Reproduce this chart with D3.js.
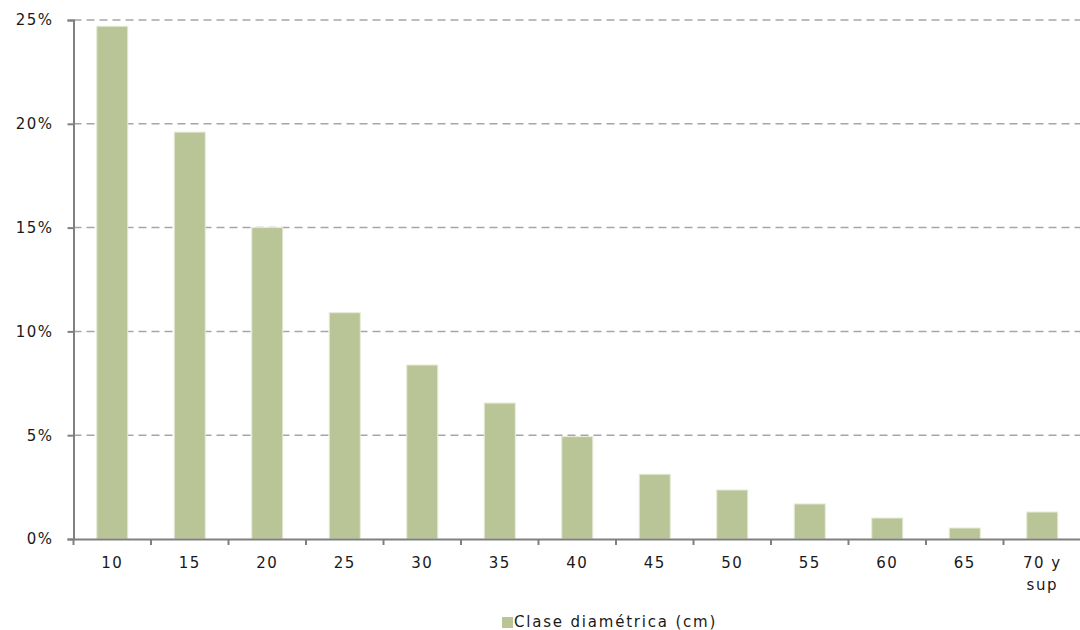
<!DOCTYPE html>
<html><head><meta charset="utf-8">
<script src="https://cdn.jsdelivr.net/npm/d3@7"></script>
<style>body{margin:0;background:#fff}svg text{font-family:"DejaVu Sans",Verdana,sans-serif;fill:#1a1a1a;}</style>
</head><body>
<svg id="c" width="1080" height="630"></svg>
<script>
const categories = ["10","15","20","25","30","35","40","45","50","55","60","65","70 y sup"];
const values = [24.7,19.6,15.0,10.9,8.38,6.55,4.93,3.12,2.36,1.69,1.01,0.53,1.3];
const yTicks = [0,5,10,15,20,25];
const seriesName = "Clase diamétrica (cm)";

(function(){
const svg = d3.select("#c");
const mLeft = 73.5, mRight = 1081, mTop = 20, mBottom = 539;
const xb = d3.scaleBand().domain(categories).range([mLeft, mRight]);
const y = d3.scaleLinear().domain([0,25]).range([mBottom, mTop]);

// grid
svg.append("g").selectAll("line").data(yTicks.filter(d=>d>0)).join("line")
  .attr("x1", mLeft).attr("x2", mRight).attr("y1", d=>y(d)).attr("y2", d=>y(d))
  .attr("stroke","#a6a6a6").attr("stroke-width",1.5).attr("stroke-dasharray","8,5");

// bars
svg.append("g").selectAll("rect").data(values).join("rect")
  .attr("x",(d,i)=>xb(categories[i]) + xb.bandwidth()*0.3)
  .attr("width", xb.bandwidth()*0.4)
  .attr("y", d=>y(d)).attr("height", d=>mBottom - y(d))
  .attr("fill","#b9c597").attr("stroke","#e6ebd6").attr("stroke-width",1);

// y axis
const yAxis = svg.append("g").attr("transform",`translate(${mLeft},0)`)
  .call(d3.axisLeft(y).tickValues(yTicks).tickSize(6).tickFormat(d=>d+"%"));
yAxis.select(".domain").attr("stroke","#808080").attr("stroke-width",2);
yAxis.selectAll(".tick line").attr("stroke","#808080").attr("stroke-width",2);
yAxis.selectAll(".tick text").attr("x",-20).attr("font-size",15).attr("letter-spacing","1.5px").attr("fill","#1a1a1a");

// x axis
const xAxis = svg.append("g").attr("transform",`translate(0,${mBottom})`)
  .call(d3.axisBottom(xb).tickSize(0).tickFormat(""));
xAxis.select(".domain").attr("stroke","#808080").attr("stroke-width",2);
xAxis.selectAll(".tick").remove();
const bounds = categories.map(c=>xb(c)).concat([mRight]);
svg.append("g").selectAll("line").data(bounds).join("line")
  .attr("x1",d=>d).attr("x2",d=>d).attr("y1",mBottom).attr("y2",mBottom+6)
  .attr("stroke","#808080").attr("stroke-width",2);

const lab = svg.append("g").selectAll("text").data(categories).join("text")
  .attr("x", d=>xb(d)+xb.bandwidth()/2).attr("y", 568)
  .attr("text-anchor","middle").attr("font-size",15).attr("letter-spacing","1.5px");
lab.each(function(d){
  const parts = d === "70 y sup" ? ["70 y","sup"] : [d];
  const t = d3.select(this);
  parts.forEach((p,i)=>t.append("tspan").attr("x", xb(d)+xb.bandwidth()/2).attr("dy", i===0?0:22).text(p));
});

// legend
svg.append("rect").attr("x",502).attr("y",617).attr("width",11).attr("height",11).attr("fill","#b9c597");
svg.append("text").attr("x",514).attr("y",627).attr("font-size",15).attr("letter-spacing","1.8px").text(seriesName);
})();
</script>
</body></html>
